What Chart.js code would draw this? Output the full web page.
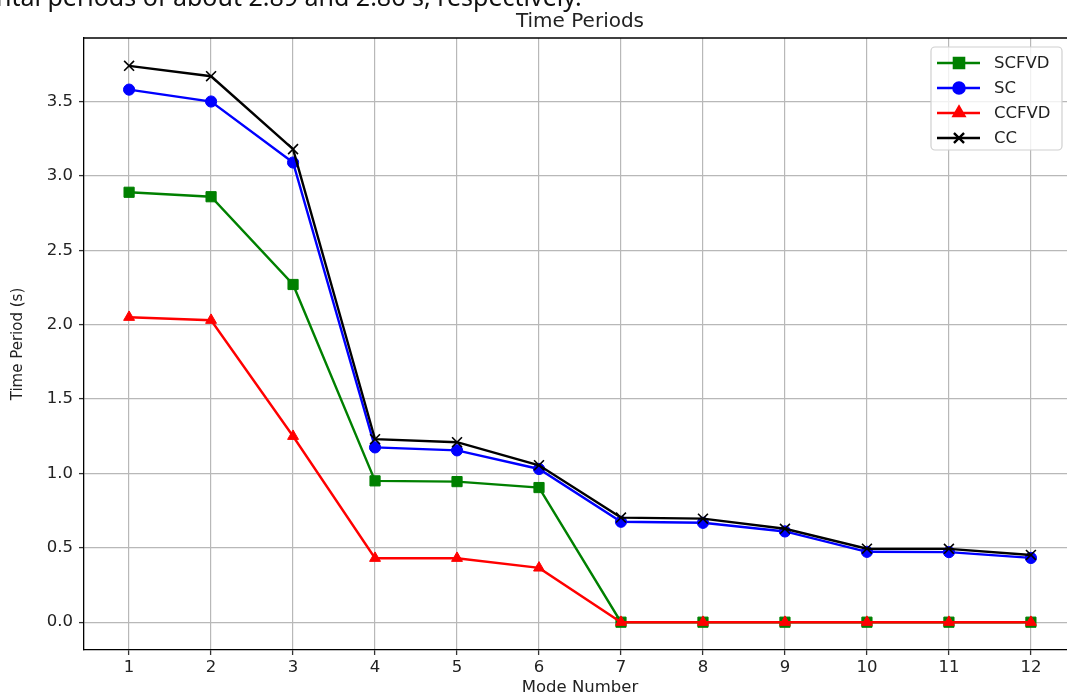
<!DOCTYPE html>
<html>
<head>
<meta charset="utf-8">
<script src="https://cdn.jsdelivr.net/npm/chart.js@4.4.0/dist/chart.umd.min.js"></script>
<style>
  html, body { margin: 0; padding: 0; background: #fff; }
  #wrap { position: relative; width: 1067px; height: 698px; overflow: hidden; }
  #clipped { position: absolute; left: -4px; top: -16px; font: 25px "Noto Sans", sans-serif; line-height: 25px; color: #111; white-space: nowrap; }
  #chart { position: absolute; left: 0; top: 0; }
</style>
</head>
<body>
<div id="wrap">
  <canvas id="chart" width="1090" height="698"></canvas>
  <div id="clipped">ntal periods of about 2.89 and 2.86 s, respectively.</div>
</div>
<script>
var modes = [1, 2, 3, 4, 5, 6, 7, 8, 9, 10, 11, 12];
var scfvd = [2.89, 2.86, 2.27, 0.95, 0.945, 0.905, 0, 0, 0, 0, 0, 0];
var sc = [3.58, 3.50, 3.09, 1.175, 1.155, 1.03, 0.675, 0.668, 0.61, 0.473, 0.471, 0.432];
var ccfvd = [2.05, 2.03, 1.25, 0.43, 0.43, 0.365, 0, 0, 0, 0, 0, 0];
var cc = [3.74, 3.67, 3.18, 1.23, 1.21, 1.055, 0.703, 0.696, 0.628, 0.494, 0.493, 0.452];
var yTicks = [0, 0.5, 1.0, 1.5, 2.0, 2.5, 3.0, 3.5];

var FONT = '"DejaVu Sans", sans-serif';

function pts(values) {
  return values.map(function(v, i) { return { x: modes[i], y: v }; });
}

function series(label, values, color, style, radius, order) {
  return {
    label: label,
    data: pts(values),
    borderColor: color,
    backgroundColor: color,
    borderWidth: 2.4,
    pointStyle: style,
    pointRadius: radius,
    pointHoverRadius: radius,
    pointBorderWidth: style === 'crossRot' ? 1.6 : 1,
    pointBorderColor: color,
    pointBackgroundColor: color,
    tension: 0,
    order: order
  };
}

var datasets = [
  series('SCFVD', scfvd, '#008000', 'rect', 7.2, 4),
  series('SC', sc, '#0000ff', 'circle', 5.6, 3),
  series('CCFVD', ccfvd, '#ff0000', 'triangle', 6.3, 2),
  series('CC', cc, '#000000', 'crossRot', 7, 1)
];

// title, top spine and legend in matplotlib style
var extras = {
  id: 'extras',
  afterDraw: function(chart) {
    var ctx = chart.ctx, a = chart.chartArea;
    ctx.save();
    ctx.strokeStyle = '#000';
    ctx.lineWidth = 1.3;
    ctx.beginPath();
    ctx.moveTo(a.left, a.top);
    ctx.lineTo(a.right, a.top);
    ctx.stroke();

    ctx.fillStyle = '#222';
    ctx.font = '20px ' + FONT;
    ctx.textAlign = 'center';
    ctx.textBaseline = 'middle';
    ctx.fillText('Time Periods', (a.left + a.right) / 2, 22);

    // legend box
    var bx = 931, by = 47, bw = 131, bh = 103, r = 4;
    ctx.fillStyle = 'rgba(255,255,255,0.8)';
    ctx.strokeStyle = '#d0d0d0';
    ctx.lineWidth = 1.2;
    ctx.beginPath();
    ctx.moveTo(bx + r, by);
    ctx.arcTo(bx + bw, by, bx + bw, by + bh, r);
    ctx.arcTo(bx + bw, by + bh, bx, by + bh, r);
    ctx.arcTo(bx, by + bh, bx, by, r);
    ctx.arcTo(bx, by, bx + bw, by, r);
    ctx.closePath();
    ctx.fill();
    ctx.stroke();

    ctx.font = '16.5px ' + FONT;
    ctx.textAlign = 'left';
    datasets.forEach(function(ds, i) {
      var y = 63 + i * 25;
      ctx.strokeStyle = ds.borderColor;
      ctx.lineWidth = ds.borderWidth;
      ctx.beginPath();
      ctx.moveTo(937, y);
      ctx.lineTo(980, y);
      ctx.stroke();
      Chart.helpers.drawPoint(ctx, {
        pointStyle: ds.pointStyle,
        radius: ds.pointRadius,
        borderWidth: ds.pointBorderWidth
      }, 959, y);
      ctx.fillStyle = ds.borderColor;
      ctx.strokeStyle = ds.borderColor;
      ctx.lineWidth = ds.pointBorderWidth;
      if (ds.pointStyle !== 'crossRot') ctx.fill();
      ctx.stroke();
      ctx.fillStyle = '#222';
      ctx.fillText(ds.label, 994, y + 1);
    });
    ctx.restore();
  }
};

new Chart(document.getElementById('chart'), {
  type: 'line',
  data: { datasets: datasets },
  plugins: [extras],
  options: {
    responsive: false,
    animation: false,
    events: [],
    layout: { padding: { top: 38, right: 14, left: 0, bottom: 0 } },
    plugins: { legend: { display: false }, title: { display: false }, tooltip: { enabled: false } },
    scales: {
      x: {
        type: 'linear',
        min: 0.45,
        max: 12.55,
        afterBuildTicks: function(s) { s.ticks = modes.map(function(m) { return { value: m }; }); },
        afterFit: function(s) { s.height = 48; },
        grid: { color: '#b8b8b8', lineWidth: 1.2, tickLength: 5, tickColor: '#333', tickWidth: 1.3 },
        border: { color: '#000', width: 1.3 },
        ticks: { color: '#222', font: { family: FONT, size: 16.5 }, padding: 3, maxRotation: 0, autoSkip: false },
        title: { display: true, text: 'Mode Number', color: '#222', font: { family: FONT, size: 16.5 }, padding: { top: 0, bottom: 0 } }
      },
      y: {
        min: -0.187,
        max: 3.927,
        afterBuildTicks: function(s) { s.ticks = yTicks.map(function(v) { return { value: v }; }); },
        afterFit: function(s) { s.width = 84; },
        grid: { color: '#b8b8b8', lineWidth: 1.2, tickLength: 5, tickColor: '#333', tickWidth: 1.3 },
        border: { color: '#000', width: 1.3 },
        ticks: { color: '#222', font: { family: FONT, size: 16.5 }, padding: 6,
          callback: function(v) { return v.toFixed(1); } },
        title: { display: true, text: 'Time Period (s)', color: '#222', font: { family: FONT, size: 15 }, padding: { top: 9, bottom: 0 } }
      }
    }
  }
});
</script>
</body>
</html>
